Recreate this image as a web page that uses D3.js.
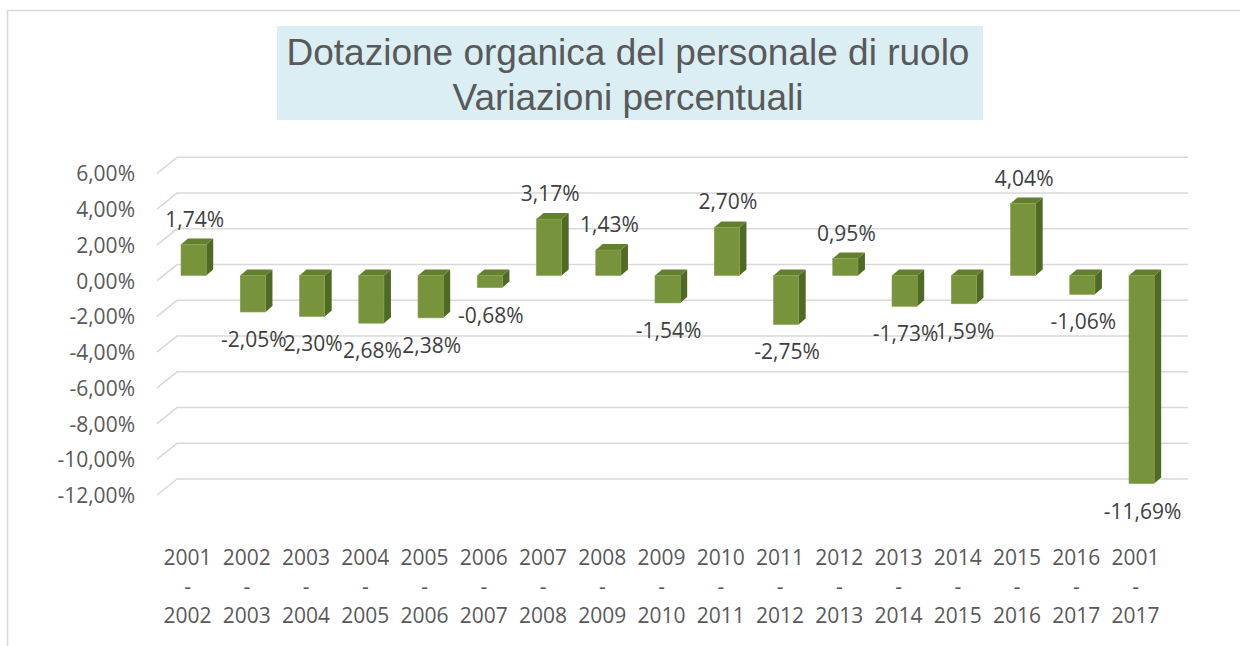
<!DOCTYPE html>
<html>
<head>
<meta charset="utf-8">
<script src="https://cdn.jsdelivr.net/npm/d3@7/dist/d3.min.js"></script>
<style>
  html, body { margin: 0; padding: 0; background: #ffffff; }
  svg { display: block; }
</style>
</head>
<body>
<div id="chart"></div>
<script>
// ---- Data ----
const categories = [
  ["2001", "2002"], ["2002", "2003"], ["2003", "2004"], ["2004", "2005"],
  ["2005", "2006"], ["2006", "2007"], ["2007", "2008"], ["2008", "2009"],
  ["2009", "2010"], ["2010", "2011"], ["2011", "2012"], ["2012", "2013"],
  ["2013", "2014"], ["2014", "2015"], ["2015", "2016"], ["2016", "2017"],
  ["2001", "2017"]
];
const values = [
  1.74, -2.05, -2.30, -2.68, -2.38, -0.68, 3.17, 1.43, -1.54,
  2.70, -2.75, 0.95, -1.73, -1.59, 4.04, -1.06, -11.69
];
// data labels as they appear in the picture (some minus signs are hidden by overlaps)
const dataLabels = [
  "1,74%", "-2,05%", "2,30%", "2,68%", "2,38%", "-0,68%", "3,17%", "1,43%", "-1,54%",
  "2,70%", "-2,75%", "0,95%", "-1,73%", "1,59%", "4,04%", "-1,06%", "-11,69%"
];
const yTicks = [6, 4, 2, 0, -2, -4, -6, -8, -10, -12];
const titleLines = ["Dotazione organica del personale di ruolo", "Variazioni percentuali"];

// ---- Setup ----
const W = 1240, H = 646;
const svg = d3.select("#chart").append("svg").attr("width", W).attr("height", H);

const itLocale = d3.formatLocale({decimal: ",", thousands: ".", grouping: [3], currency: ["", "€"], minus: "-"});
const fmtTick = v => itLocale.format(".2f")(v) + "%";

const textColor = "#595959";
const gridColor = "#d9d9d9";
const frontColor = "#77933c";
const topColor = "#62802e";
const sideColor = "#4f6a24";
const fontSize = 21;

// chart border
svg.append("path")
  .attr("d", "M7.5,646 L7.5,10.5 L1240,10.5")
  .attr("fill", "none").attr("stroke", gridColor).attr("stroke-width", 1.5);

// title
svg.append("rect").attr("x", 277).attr("y", 26).attr("width", 706).attr("height", 94).attr("fill", "#daeef3");
const title = svg.append("text")
  .attr("x", 628).attr("text-anchor", "middle")
  .attr("font-family", "'Liberation Sans', Arial, sans-serif")
  .attr("font-size", 37).attr("fill", textColor);
titleLines.forEach((t, i) => {
  title.append("tspan").attr("x", 628).attr("y", 65 + i * 45).text(t);
});

// scales
const x = d3.scaleBand()
  .domain(d3.range(categories.length))
  .range([151.4, 1183.8])
  .paddingInner(0.575)
  .paddingOuter(0.5);
const bw = x.bandwidth();

const yBack = d3.scaleLinear().domain([-12, 6]).range([479, 157.3]);   // back wall gridlines
const yBar = d3.scaleLinear().domain([-12, 6]).range([489.1, 168.7]);  // bar plane

const depthX = 7, depthY = -6;       // 3D depth of bars
const wallDX = 20, wallDY = -16;     // diagonal of side wall

// gridlines
const grid = svg.append("g");
yTicks.forEach(t => {
  const yb = yBack(t);
  grid.append("path")
    .attr("d", `M157,${yb - wallDY} L${157 + wallDX},${yb} L1188,${yb}`)
    .attr("fill", "none").attr("stroke", gridColor).attr("stroke-width", 1.6);
});

// y axis labels
svg.append("g").selectAll("text").data(yTicks).join("text")
  .attr("x", 135).attr("y", d => yBack(d) - wallDY)
  .attr("text-anchor", "end").attr("dominant-baseline", "central")
  .attr("font-family", "'Open Sans', sans-serif").attr("font-size", fontSize)
  .attr("fill", textColor)
  .text(d => fmtTick(d));

// bars
const bars = svg.append("g");
values.forEach((v, i) => {
  const x0 = x(i);
  const yTop = Math.min(yBar(v), yBar(0));
  const yBot = Math.max(yBar(v), yBar(0));
  const g = bars.append("g");
  g.append("path") // side
    .attr("d", `M${x0 + bw},${yTop} L${x0 + bw + depthX},${yTop + depthY} L${x0 + bw + depthX},${yBot + depthY} L${x0 + bw},${yBot} Z`)
    .attr("fill", sideColor);
  g.append("path") // top
    .attr("d", `M${x0},${yTop} L${x0 + depthX},${yTop + depthY} L${x0 + bw + depthX},${yTop + depthY} L${x0 + bw},${yTop} Z`)
    .attr("fill", topColor);
  g.append("rect") // front
    .attr("x", x0).attr("y", yTop).attr("width", bw).attr("height", yBot - yTop)
    .attr("fill", frontColor).attr("stroke", "#86a34a").attr("stroke-width", 0.6);
});

// data labels
svg.append("g").selectAll("text").data(values).join("text")
  .attr("x", (d, i) => x(i) + bw / 2 + 1)
  .attr("y", d => d >= 0 ? yBar(d) - 26 : yBar(d) + 27)
  .attr("text-anchor", "middle").attr("dominant-baseline", "central")
  .attr("font-family", "'Open Sans', sans-serif").attr("font-size", fontSize)
  .attr("fill", "#404040")
  .text((d, i) => dataLabels[i]);

// x axis labels
const xl = svg.append("g").selectAll("text").data(categories).join("text")
  .attr("text-anchor", "middle")
  .attr("font-family", "'Open Sans', sans-serif").attr("font-size", fontSize)
  .attr("fill", textColor);
xl.each(function(d, i) {
  const cx = x(i) + bw / 2 - 6;
  const t = d3.select(this);
  t.append("tspan").attr("x", cx).attr("y", 565).text(d[0]);
  t.append("tspan").attr("x", cx).attr("y", 594).text("-");
  t.append("tspan").attr("x", cx).attr("y", 623).text(d[1]);
});
</script>
</body>
</html>
